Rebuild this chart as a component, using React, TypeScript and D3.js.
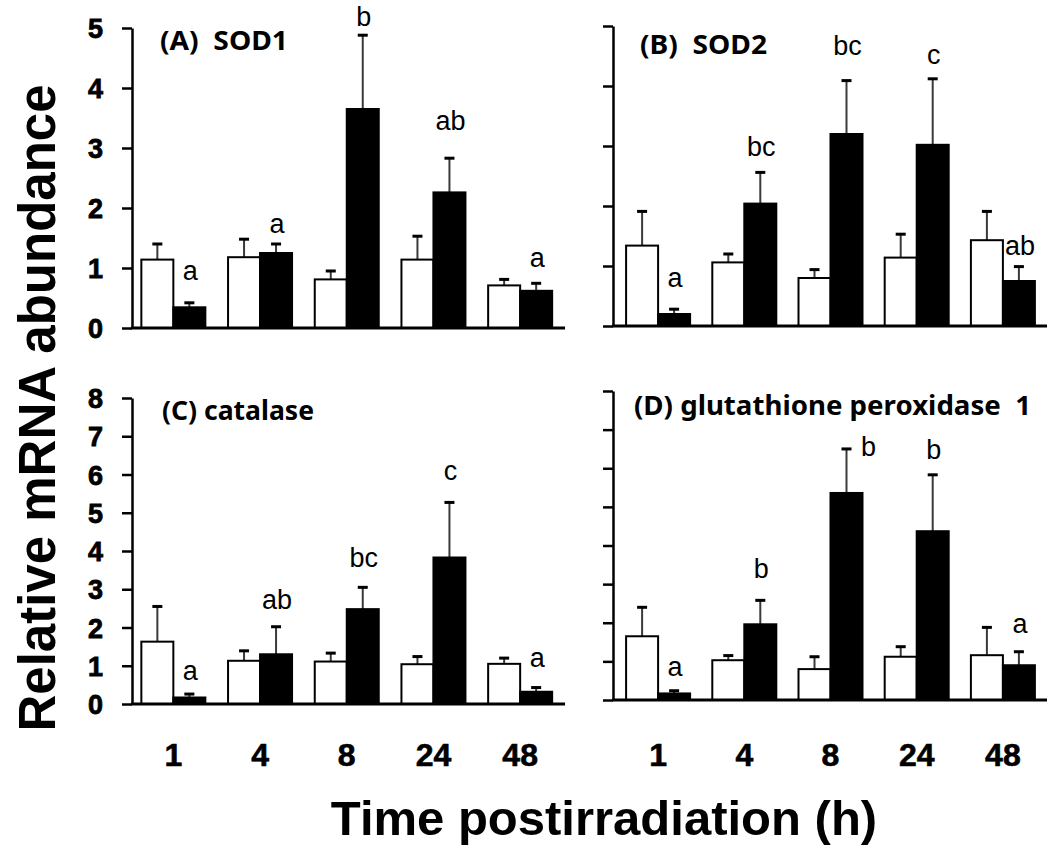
import React, { useEffect, useRef } from "react";
import * as d3 from "d3";

// time points (h)
const times = ["1", "4", "8", "24", "48"];

// (A) SOD1
const sod1Control = [1.14, 1.18, 0.81, 1.14, 0.71];
const sod1ControlErr = [0.26, 0.3, 0.14, 0.39, 0.1];
const sod1Irr = [0.345, 1.25, 3.65, 2.26, 0.62];
const sod1IrrErr = [0.075, 0.15, 1.23, 0.57, 0.125];
const sod1Letters = ["a", "a", "b", "ab", "a"];
const sod1LetterY = [0.8, 1.58, 5.04, 3.3, 1.02];

// (B) SOD2
const sod2Control = [1.34, 1.06, 0.8, 1.14, 1.43];
const sod2ControlErr = [0.57, 0.14, 0.14, 0.39, 0.48];
const sod2Irr = [0.2, 2.04, 3.2, 3.02, 0.75];
const sod2IrrErr = [0.08, 0.52, 0.89, 1.1, 0.24];
const sod2Letters = ["a", "bc", "bc", "c", "ab"];
const sod2LetterY = [0.65, 2.83, 4.52, 4.37, 1.18];

// (C) catalase
const catControl = [1.63, 1.13, 1.11, 1.04, 1.05];
const catControlErr = [0.92, 0.26, 0.22, 0.2, 0.15];
const catIrr = [0.17, 1.3, 2.48, 3.83, 0.32];
const catIrrErr = [0.09, 0.72, 0.57, 1.44, 0.11];
const catLetters = ["a", "ab", "bc", "c", "a"];
const catLetterY = [0.63, 2.49, 3.59, 5.86, 0.97];

// (D) glutathione peroxidase 1
const gpxControl = [1.65, 1.03, 0.8, 1.12, 1.16];
const gpxControlErr = [0.75, 0.12, 0.32, 0.26, 0.72];
const gpxIrr = [0.17, 1.96, 5.36, 4.37, 0.9];
const gpxIrrErr = [0.07, 0.62, 1.14, 1.46, 0.35];
const gpxLetters = ["a", "b", "b", "b", "a"];
const gpxLetterY = [0.62, 3.15, 6.33, 6.23, 1.73];

const sod1Ticks = [0, 1, 2, 3, 4, 5];
const catTicks = [0, 1, 2, 3, 4, 5, 6, 7, 8];

const panels = [
  {
    title: "(A)  SOD1", titleLen: 128, tx: 160, ty: 50,
    control: sod1Control, controlErr: sod1ControlErr, irr: sod1Irr, irrErr: sod1IrrErr,
    letters: sod1Letters, letterY: sod1LetterY, ticks: sod1Ticks,
    x0: 132, x1: 565, bandStart: 130, bandEnd: 563.5, y0: 328, y1: 28,
    tickLabels: true, xLabels: false,
  },
  {
    title: "(B)  SOD2", titleLen: 127, tx: 640, ty: 54,
    control: sod2Control, controlErr: sod2ControlErr, irr: sod2Irr, irrErr: sod2IrrErr,
    letters: sod2Letters, letterY: sod2LetterY, ticks: sod1Ticks,
    x0: 613, x1: 1047, bandStart: 615, bandEnd: 1046, y0: 326, y1: 26,
    tickLabels: false, xLabels: false,
  },
  {
    title: "(C) catalase", titleLen: 152, tx: 162, ty: 420,
    control: catControl, controlErr: catControlErr, irr: catIrr, irrErr: catIrrErr,
    letters: catLetters, letterY: catLetterY, ticks: catTicks,
    x0: 132, x1: 565, bandStart: 130, bandEnd: 563.5, y0: 704, y1: 398,
    tickLabels: true, xLabels: true,
  },
  {
    title: "(D) glutathione peroxidase  1", titleLen: 397, tx: 634, ty: 415,
    control: gpxControl, controlErr: gpxControlErr, irr: gpxIrr, irrErr: gpxIrrErr,
    letters: gpxLetters, letterY: gpxLetterY, ticks: catTicks,
    x0: 613, x1: 1047, bandStart: 615, bandEnd: 1046, y0: 700, y1: 391,
    tickLabels: false, xLabels: true,
  },
];

const App = () => {
  const svgRef = useRef<SVGSVGElement>(null);

  useEffect(() => {
    const svg = d3.select(svgRef.current);
    svg.selectAll("*").remove();

    const barW = 32;
    const bold = "'Liberation Sans', Arial, sans-serif";

    panels.forEach((p, pi) => {
      const g = svg.append("g");
      const yMax = p.ticks[p.ticks.length - 1];

      const x = d3.scaleBand<string>()
        .domain(times)
        .range([p.bandStart, p.bandEnd]);

      const y = d3.scaleLinear()
        .domain([0, yMax])
        .range([p.y0, p.y1]);

      const cx = (t: string) => (x(t) as number) + x.bandwidth() / 2;

      // bars (white = control, black = irradiated)
      const series = [
        { vals: p.control, errs: p.controlErr, fill: "#fff", off: -barW },
        { vals: p.irr, errs: p.irrErr, fill: "#000", off: 0 },
      ];

      series.forEach(s => {
        // error bars (upper only)
        g.selectAll(null)
          .data(times)
          .enter()
          .append("line")
          .attr("x1", (t) => cx(t) + s.off + barW / 2)
          .attr("x2", (t) => cx(t) + s.off + barW / 2)
          .attr("y1", (t, i) => y(s.vals[i]))
          .attr("y2", (t, i) => y(s.vals[i] + s.errs[i]))
          .attr("stroke", "#3a3a3a")
          .attr("stroke-width", 2);

        g.selectAll(null)
          .data(times)
          .enter()
          .append("rect")
          .attr("x", (t) => cx(t) + s.off + barW / 2 - 5)
          .attr("y", (t, i) => y(s.vals[i] + s.errs[i]) - 1.5)
          .attr("width", 10)
          .attr("height", 3)
          .attr("fill", "#000");

        g.selectAll(null)
          .data(times)
          .enter()
          .append("rect")
          .attr("x", (t) => cx(t) + s.off)
          .attr("y", (t, i) => y(s.vals[i]))
          .attr("width", barW)
          .attr("height", (t, i) => p.y0 - y(s.vals[i]))
          .attr("fill", s.fill)
          .attr("stroke", "#000")
          .attr("stroke-width", 2);
      });

      // significance letters over irradiated bars
      g.selectAll(null)
        .data(times)
        .enter()
        .append("text")
        .attr("x", (t, i) => cx(t) + barW / 2 + (pi === 3 && i === 2 ? 22 : 1))
        .attr("y", (t, i) => y(p.letterY[i]))
        .attr("text-anchor", "middle")
        .attr("font-family", bold)
        .attr("font-size", 27)
        .text((t, i) => p.letters[i]);

      // y axis
      const yAxis = g.append("g")
        .attr("transform", `translate(${p.x0},0)`)
        .call(d3.axisLeft(y).tickValues(p.ticks).tickSize(10).tickSizeOuter(0)
          .tickFormat(p.tickLabels ? d3.format("d") : () => ""));
      yAxis.select(".domain").attr("stroke", "#000").attr("stroke-width", 2.5);
      yAxis.selectAll(".tick line").attr("stroke", "#000").attr("stroke-width", 2.5);
      yAxis.selectAll(".tick text")
        .attr("x", -29)
        .attr("dy", "0.36em")
        .attr("font-family", bold)
        .attr("font-weight", "bold")
        .attr("font-size", 27)
        .attr("fill", "#000")
        .attr("stroke", "#000")
        .attr("stroke-width", 0.8);

      // x axis line
      g.append("line")
        .attr("x1", p.x0 - 1)
        .attr("x2", p.x1)
        .attr("y1", p.y0)
        .attr("y2", p.y0)
        .attr("stroke", "#000")
        .attr("stroke-width", 3);

      if (p.xLabels) {
        g.selectAll(null)
          .data(times)
          .enter()
          .append("text")
          .attr("x", (t) => cx(t))
          .attr("y", 766)
          .attr("text-anchor", "middle")
          .attr("font-family", bold)
          .attr("font-weight", "bold")
          .attr("font-size", 32)
          .attr("stroke", "#000")
          .attr("stroke-width", 0.6)
          .text((t) => t);
      }

      // panel title
      g.append("text")
        .attr("x", p.tx)
        .attr("y", p.ty)
        .attr("font-family", "'Noto Sans', 'Open Sans', sans-serif")
        .attr("font-weight", "bold")
        .attr("font-size", 26)
        .attr("textLength", p.titleLen)
        .attr("lengthAdjust", "spacingAndGlyphs")
        .style("white-space", "pre")
        .text(p.title);
    });

    // axis titles
    svg.append("text")
      .attr("x", 604)
      .attr("y", 835)
      .attr("text-anchor", "middle")
      .attr("font-family", bold)
      .attr("font-weight", "bold")
      .attr("font-size", 49)
      .text("Time postirradiation (h)");

    svg.append("text")
      .attr("transform", "translate(55,408) rotate(-90)")
      .attr("text-anchor", "middle")
      .attr("font-family", bold)
      .attr("font-weight", "bold")
      .attr("font-size", 51)
      .text("Relative mRNA abundance");
  }, []);

  return (
    <div>
      <style>{`body{margin:0;background:#fff}`}</style>
      <svg ref={svgRef} width={1050} height={852} style={{ display: "block", background: "#fff" }}></svg>
    </div>
  );
};

export default App;
